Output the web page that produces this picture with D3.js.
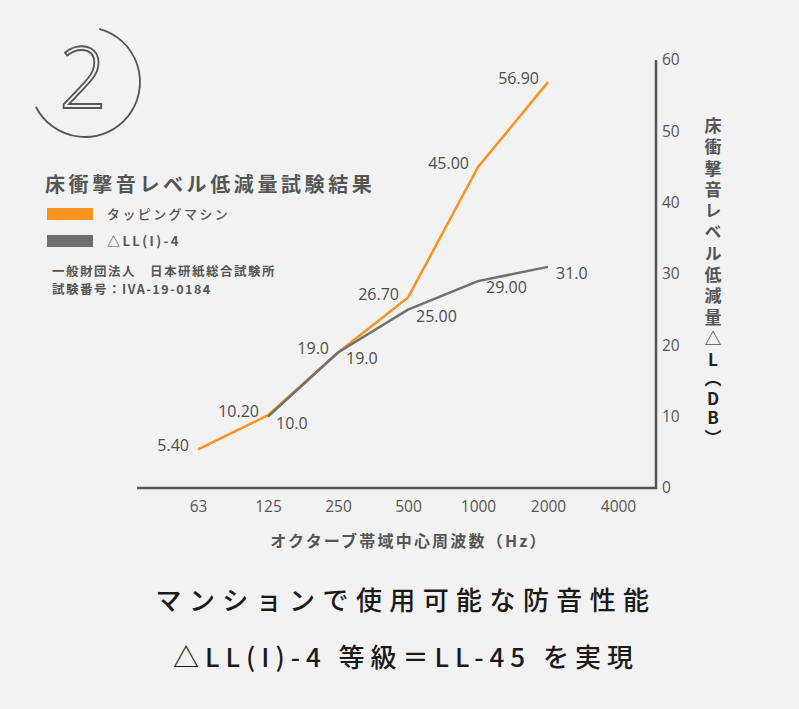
<!DOCTYPE html>
<html>
<head>
<meta charset="utf-8">
<script src="https://cdn.jsdelivr.net/npm/d3@7"></script>
<style>
  html, body { margin: 0; padding: 0; background: #f2f2f2; }
  svg { display: block; font-family: "Open Sans", "Noto Sans CJK JP", sans-serif; }
  .jp { font-family: "Noto Sans CJK JP", sans-serif; }
</style>
</head>
<body>
<svg id="chart" width="799" height="709"></svg>
<script>
/* data */
const freqs = ["63", "125", "250", "500", "1000", "2000", "4000"];
const yTicks = [0, 10, 20, 30, 40, 50, 60];

const tappingFreqs = ["63", "125", "250", "500", "1000", "2000"];
const tappingValues = [5.4, 10.2, 19.0, 26.7, 45.0, 56.9];
const tappingLabels = ["5.40", "10.20", "19.0", "26.70", "45.00", "56.90"];

const llFreqs = ["125", "250", "500", "1000", "2000"];
const llValues = [10.0, 19.0, 25.0, 29.0, 31.0];
const llLabels = ["10.0", "19.0", "25.00", "29.00", "31.0"];

const ORANGE = "#f7931e";
const GREY = "#707070";
const INK = "#555";

const svg = d3.select("#chart");

/* Scale */
const xScale = d3.scalePoint().domain(freqs).range([198, 618]);
const yScale = d3.scaleLinear().domain([0, 60]).range([488, 60]);

/* circled number */
const badge = svg.append("g").attr("transform", "translate(85, 82)");
badge.append("path")
  .attr("d", d3.arc()({
    innerRadius: 55, outerRadius: 55,
    startAngle: 15 * Math.PI / 180, endAngle: 243 * Math.PI / 180
  }))
  .attr("fill", "none")
  .attr("stroke", INK)
  .attr("stroke-width", 1.8);
badge.append("text")
  .attr("x", -2)
  .attr("y", 26)
  .attr("text-anchor", "middle")
  .attr("font-family", "Open Sans")
  .attr("font-weight", 300)
  .attr("font-size", 84)
  .attr("fill", "#f2f2f2")
  .attr("stroke", INK)
  .attr("stroke-width", 1.8)
  .text("2");

/* title and legend */
svg.append("text")
  .attr("class", "jp")
  .attr("x", 45)
  .attr("y", 192)
  .attr("font-size", 20)
  .attr("font-weight", 700)
  .attr("letter-spacing", 3.6)
  .attr("fill", INK)
  .text("床衝撃音レベル低減量試験結果");

const legend = [
  { name: "タッピングマシン", color: ORANGE, weight: 500 },
  { name: "△LL(I)-4", color: GREY, weight: 700 }
];
const lg = svg.append("g")
  .selectAll("g")
  .data(legend)
  .enter()
  .append("g")
  .attr("transform", (d, i) => `translate(47, ${208 + i * 27})`);
lg.append("rect")
  .attr("width", 46)
  .attr("height", 12)
  .attr("fill", d => d.color);
lg.append("text")
  .attr("class", "jp")
  .attr("x", 60)
  .attr("y", 6)
  .attr("dy", "0.35em")
  .attr("font-size", 13)
  .attr("font-weight", d => d.weight)
  .attr("letter-spacing", 2.4)
  .attr("fill", INK)
  .text(d => d.name);

const notes = ["一般財団法人　日本研紙総合試験所", "試験番号：IVA-19-0184"];
svg.append("g")
  .selectAll("text")
  .data(notes)
  .enter()
  .append("text")
  .attr("class", "jp")
  .attr("x", 52)
  .attr("y", (d, i) => 276 + i * 18)
  .attr("font-size", 12.5)
  .attr("font-weight", 700)
  .attr("letter-spacing", 1.5)
  .attr("fill", INK)
  .text(d => d);

/* axes */
const xAxis = d3.axisBottom(xScale).tickSize(0).tickPadding(13);
svg.append("g")
  .attr("class", "x axis")
  .attr("transform", `translate(0, ${yScale(0)})`)
  .call(xAxis)
  .call(g => g.select(".domain").remove())
  .selectAll("text")
  .attr("font-family", "Open Sans")
  .attr("font-size", 15.5)
  .attr("fill", INK);

const yAxis = d3.axisRight(yScale).tickValues(yTicks).tickSize(0).tickPadding(6);
svg.append("g")
  .attr("class", "y axis")
  .attr("transform", "translate(656, 0)")
  .call(yAxis)
  .call(g => g.select(".domain").remove())
  .selectAll("text")
  .attr("font-family", "Open Sans")
  .attr("font-size", 15.5)
  .attr("fill", INK);

svg.append("path")
  .attr("d", `M137,${yScale(0)}H656V${yScale(60)}`)
  .attr("fill", "none")
  .attr("stroke", INK)
  .attr("stroke-width", 2.5);

svg.append("text")
  .attr("class", "jp")
  .attr("x", 409)
  .attr("y", 541)
  .attr("dy", "0.35em")
  .attr("text-anchor", "middle")
  .attr("font-size", 16)
  .attr("font-weight", 700)
  .attr("letter-spacing", 2.2)
  .attr("fill", INK)
  .text("オクターブ帯域中心周波数（Hz）");

const yTitle = svg.append("text")
  .attr("class", "jp")
  .attr("x", 713)
  .attr("y", 117)
  .attr("font-size", 17)
  .attr("font-weight", 700)
  .attr("letter-spacing", 4.3)
  .style("writing-mode", "vertical-rl")
  .style("text-orientation", "upright")
  .attr("fill", INK);
yTitle.append("tspan").text("床衝撃音レベル低減量△");
yTitle.append("tspan").attr("fill", "#222").attr("letter-spacing", 2.5).text("L（DB）");

/* lines */
const series = [
  { name: "tapping", color: ORANGE, values: tappingFreqs.map((f, i) => ({ freq: f, value: tappingValues[i], label: tappingLabels[i] })), anchor: "end", dx: -9, dy: 2 },
  { name: "ll", color: GREY, values: llFreqs.map((f, i) => ({ freq: f, value: llValues[i], label: llLabels[i] })), anchor: "start", dx: 8, dy: 12 }
];

const line = d3.line()
  .x(d => xScale(d.freq))
  .y(d => yScale(d.value));

const lines = svg.append("g").attr("class", "lines");
lines.selectAll(".line")
  .data(series)
  .enter()
  .append("path")
  .attr("class", "line")
  .attr("d", d => line(d.values))
  .attr("fill", "none")
  .attr("stroke", d => d.color)
  .attr("stroke-width", 2.5)
  .attr("stroke-linejoin", "round");

const labels = svg.append("g").attr("class", "labels");
series.forEach(s => {
  labels.selectAll(".label-" + s.name)
    .data(s.values)
    .enter()
    .append("text")
    .attr("class", "label-" + s.name)
    .attr("x", d => xScale(d.freq) + s.dx)
    .attr("y", d => yScale(d.value) + s.dy)
    .attr("text-anchor", s.anchor)
    .attr("font-family", "Open Sans")
    .attr("font-size", 16)
    .attr("fill", "#4d4d4d")
    .text(d => d.label);
});

/* caption */
const caption = [
  { text: "マンションで使用可能な防音性能", spacing: 7.4 },
  { text: "△LL(I)-4 等級＝LL-45 を実現", spacing: 6 }
];
svg.append("g")
  .selectAll("text")
  .data(caption)
  .enter()
  .append("text")
  .attr("class", "jp")
  .attr("x", 406)
  .attr("y", (d, i) => 601 + i * 57)
  .attr("dy", "0.35em")
  .attr("text-anchor", "middle")
  .attr("font-size", 26)
  .attr("font-weight", 500)
  .attr("letter-spacing", d => d.spacing)
  .attr("fill", "#1a1a1a")
  .text(d => d.text);
</script>
</body>
</html>
